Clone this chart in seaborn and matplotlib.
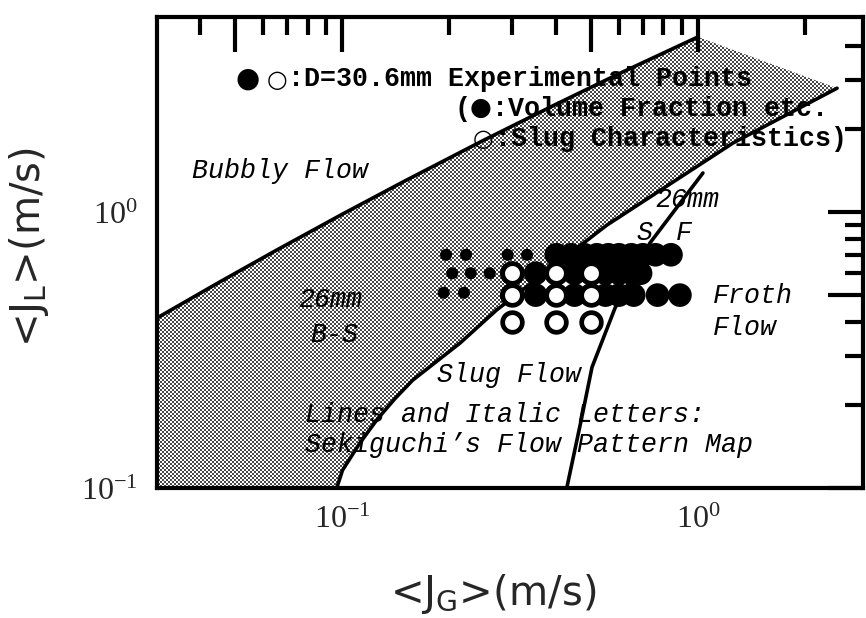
import numpy as np
import pandas as pd
import matplotlib
matplotlib.use("Agg")
import matplotlib.pyplot as plt
import seaborn as sns
from matplotlib.ticker import FixedLocator, FixedFormatter

# ---- experimental points, D = 30.6 mm (superficial velocities, m/s) ----
small_jg = [0.196, 0.223, 0.292, 0.331, 0.204, 0.230, 0.260, 0.193, 0.220]
small_jl = [0.70, 0.70, 0.70, 0.70, 0.60, 0.60, 0.60, 0.51, 0.51]

filled_jg = [0.40, 0.44, 0.48, 0.52, 0.56, 0.60, 0.65, 0.70, 0.76, 0.84,
             0.30, 0.35, 0.40, 0.45, 0.50, 0.55, 0.60, 0.65, 0.69,
             0.30, 0.35, 0.40, 0.45, 0.50, 0.55, 0.60, 0.66, 0.77, 0.89]
filled_jl = [0.70, 0.70, 0.70, 0.70, 0.70, 0.70, 0.70, 0.70, 0.70, 0.70,
             0.60, 0.60, 0.60, 0.60, 0.60, 0.60, 0.60, 0.60, 0.60,
             0.50, 0.50, 0.50, 0.50, 0.50, 0.50, 0.50, 0.50, 0.50, 0.50]

open_jg = [0.30, 0.40, 0.50, 0.30, 0.40, 0.50, 0.30, 0.40, 0.50]
open_jl = [0.60, 0.60, 0.60, 0.50, 0.50, 0.50, 0.40, 0.40, 0.40]

# ---- Sekiguchi's flow pattern map boundaries ----
bubbly_jg = [0.0302, 0.045, 0.065, 0.10, 0.15, 0.25, 0.40, 0.60, 1.00]
bubbly_jl = [0.413, 0.555, 0.724, 0.981, 1.295, 1.82, 2.46, 3.17, 4.31]
slug_jg = [0.0966, 0.0985, 0.1003, 0.1122, 0.1259, 0.1413, 0.158, 0.2145,
           0.272, 0.555, 1.254, 2.46]
slug_jl = [0.100, 0.108, 0.116, 0.1455, 0.1782, 0.2118, 0.246, 0.335,
           0.442, 0.897, 1.778, 2.81]
froth_jg = [0.428, 0.472, 0.504, 0.585, 0.733, 1.033]
froth_jl = [0.100, 0.181, 0.274, 0.449, 0.772, 1.385]

x_limits = (0.0302, 2.91)
y_limits = (0.1, 5.09)
x_major = [0.05, 0.1, 0.5, 1.0]
x_major_labels = ["", r"$\mathrm{10^{-1}}$", "", r"$\mathrm{10^{0}}$"]
x_minor = [0.03, 0.04, 0.06, 0.07, 0.08, 0.09, 0.2, 0.3, 0.4, 0.6, 0.7, 0.8, 0.9, 2.0]
y_major = [0.1, 0.5, 1.0]
y_major_labels = [r"$\mathrm{10^{-1}}$", "", r"$\mathrm{10^{0}}$"]
y_minor = [0.2, 0.3, 0.4, 0.6, 0.7, 0.8, 0.9, 2.0, 3.0, 4.0]

sns.set_style("white")
plt.rcParams["mathtext.fontset"] = "custom"
plt.rcParams["mathtext.rm"] = "Liberation Serif"
plt.rcParams["mathtext.sf"] = "DejaVu Sans"
plt.rcParams["font.family"] = ["Liberation Mono", "DejaVu Sans"]

W, H = 866, 618
fig = plt.figure(figsize=(W / 100, H / 100), dpi=100, facecolor="white")
L, R, T, B = 157, 863, 17, 488
ax = fig.add_axes([L / W, 1 - B / H, (R - L) / W, (B - T) / H])
ax.set_facecolor("none")
ax.set_xscale("log")
ax.set_yscale("log")
ax.set_xlim(*x_limits)
ax.set_ylim(*y_limits)

# transition band between the bubbly and slug boundaries (halftone screen)
band_x = [x_limits[0]] + bubbly_jg + slug_jg[::-1]
band_y = [y_limits[0]] + bubbly_jl + slug_jl[::-1]
band = ax.fill(band_x, band_y, facecolor="none", edgecolor="none")[0]
ii, jj = np.indices((480, 716))
checker = ((ii // 2 + jj // 2) % 2).astype(float)
shade = 0.28 + 0.72 * checker
rgb = np.dstack([shade, shade, shade])
img = fig.figimage(rgb, xo=L - 5, yo=H - B - 5, origin="upper", zorder=-1)
img.set_clip_path(band)

# boundary lines
for bx, by in [(bubbly_jg, bubbly_jl), (slug_jg, slug_jl), (froth_jg, froth_jl)]:
    sns.lineplot(x=bx, y=by, ax=ax, color="black", lw=2.6, sort=False,
                 estimator=None, zorder=3, legend=False)

# experimental points
sns.scatterplot(x=small_jg, y=small_jl, ax=ax, s=75, color="black",
                edgecolor="none", zorder=4, legend=False)
sns.scatterplot(x=filled_jg, y=filled_jl, ax=ax, s=290, color="black",
                edgecolor="none", zorder=5, legend=False)
sns.scatterplot(x=open_jg, y=open_jl, ax=ax, s=200, facecolor="white",
                edgecolor="black", linewidth=3.4, zorder=6, legend=False)

# axes frame and ticks
for sp in ax.spines.values():
    sp.set_linewidth(3)
    sp.set_color("black")
ax.xaxis.set_major_locator(FixedLocator(x_major))
ax.xaxis.set_major_formatter(FixedFormatter(x_major_labels))
ax.xaxis.set_minor_locator(FixedLocator(x_minor))
ax.yaxis.set_major_locator(FixedLocator(y_major))
ax.yaxis.set_major_formatter(FixedFormatter(y_major_labels))
ax.yaxis.set_minor_locator(FixedLocator(y_minor))
ax.xaxis.set_minor_formatter(FixedFormatter([""] * len(x_minor)))
ax.yaxis.set_minor_formatter(FixedFormatter([""] * len(y_minor)))
ax.tick_params(which="both", direction="in", top=True, right=True,
               width=3, color="black", labelsize=23)
ax.tick_params(which="major", length=25)
ax.tick_params(which="minor", length=13)
ax.tick_params(axis="x", which="major", pad=12)
ax.tick_params(axis="y", which="major", pad=14)
ax.set_xlabel("")
ax.set_ylabel("")


def put(x, y, s, **kw):
    fig.text(x / W, 1 - y / H, s, **kw)


mono = dict(family=["Liberation Mono", "DejaVu Sans"], fontsize=19.2,
            fontweight="bold", color="black", va="baseline", ha="left",
            zorder=8)
ital = dict(mono, fontstyle="italic", fontweight="normal")
glyph = dict(family="DejaVu Sans", color="black", ha="center", va="center",
             zorder=9)

# key for the experimental points
put(248, 79, "\u25cf", fontsize=20, **glyph)
put(277, 80, "\u25cb", fontsize=17, **glyph)
put(288, 86, ":D=30.6mm Experimental Points", **mono)
put(454, 116, "(", **mono)
put(481, 108, "\u25cf", fontsize=18, **glyph)
put(492, 116, ":Volume Fraction etc.", **mono)
put(483, 139, "\u25cb", fontsize=17, **glyph)
put(495, 146, ":Slug Characteristics)", **mono)

# flow regime labels
put(192, 178, "Bubbly Flow", **ital)
put(298, 307, "26mm", **ital)
put(310, 342, "B-S", **ital)
put(655, 207, "26mm", **ital)
put(636, 240, "S", **ital)
put(676, 240, "F", **ital)
put(713, 303, "Froth", **ital)
put(713, 335, "Flow", **ital)
put(437, 382, "Slug Flow", **ital)
put(305, 422, "Lines and Italic Letters:", **ital)
put(305, 452, "Sekiguchi\u2019s Flow Pattern Map", **ital)

# axis titles
put(29, 247, r"<J$_\mathsf{L}$>(m/s)", family="DejaVu Sans", fontsize=29,
    rotation=90, ha="center", va="center")
put(493, 594, r"<J$_\mathsf{G}$>(m/s)", family="DejaVu Sans", fontsize=29,
    ha="center", va="center")

fig.savefig("out.png", dpi=100, facecolor="white")
